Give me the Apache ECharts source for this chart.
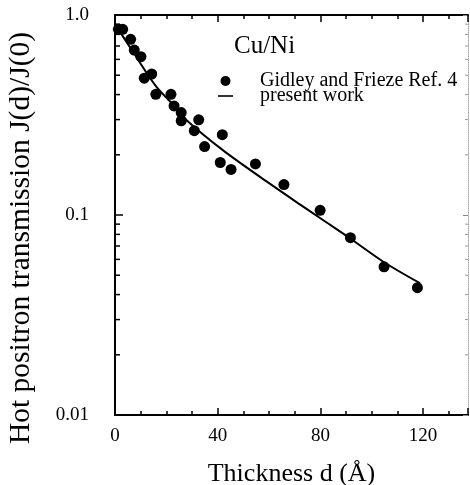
<!DOCTYPE html>
<html>
<head>
<meta charset="utf-8">
<script src="https://cdn.jsdelivr.net/npm/echarts@6/dist/echarts.min.js"></script>
<style>html,body{margin:0;padding:0;background:#fff;}#c{width:470px;height:485px;}</style>
</head>
<body>
<div id="c"></div>
<script>
// ---- data ----
var pointsX = [1.3, 3.0, 6.1, 7.5, 10.1, 11.4, 14.3, 15.9, 21.8, 23.0, 25.8, 25.8, 30.9, 32.6, 34.9, 41.0, 41.8, 45.2, 54.7, 65.8, 79.9, 91.7, 104.8, 117.8];
var pointsY = [0.848, 0.848, 0.756, 0.668, 0.619, 0.483, 0.507, 0.401, 0.401, 0.351, 0.325, 0.296, 0.264, 0.299, 0.220, 0.183, 0.252, 0.169, 0.180, 0.142, 0.1055, 0.077, 0.0551, 0.0433];
var lineX = [0, 7.8, 16, 24, 28, 42, 56.5, 71.4, 81, 91.5, 104.5, 118.8];
var lineY = [0.90, 0.631, 0.44, 0.342, 0.297, 0.211, 0.155, 0.1144, 0.0944, 0.0765, 0.0584, 0.0456];
var xTickLabels = [0, 40, 80, 120];
var yTickValues = [0.01, 0.1, 1];
var yTickLabels = ['0.01', '0.1', '1.0'];
var yMinorTicks = [0.02,0.03,0.04,0.05,0.06,0.07,0.08,0.09,0.2,0.3,0.4,0.5,0.6,0.7,0.8,0.9];
var seriesNames = ['Gidley and Frieze Ref. 4', 'present work'];
var titleText = 'Cu/Ni';
var xName = 'Thickness d (\u00C5)';
var yName = 'Hot positron transmission J(d)/J(0)';
var X_MAX = 137.5;

var FONT = "'Liberation Serif','Times New Roman',serif";

function zip(a, b) { return a.map(function (v, i) { return [v, b[i]]; }); }

var chart = echarts.init(document.getElementById('c'), null, {renderer: 'canvas'});

function xAxisDef(pos, interval, tickLen, showLine, showLabel) {
  return {
    type: 'value', position: pos, min: 0, max: X_MAX, interval: interval,
    axisLine: {show: showLine, onZero: false, lineStyle: {color: '#000', width: 2}},
    axisTick: {show: true, inside: true, length: tickLen, lineStyle: {color: '#000', width: 1.5}},
    splitLine: {show: false},
    axisLabel: {
      show: showLabel, margin: 12, color: '#000', fontFamily: FONT, fontSize: 19,
      showMaxLabel: false,
      formatter: function (v) { return xTickLabels.indexOf(v) >= 0 ? String(v) : ''; }
    },
    name: showLabel ? xName : '', nameLocation: 'middle', nameGap: 46,
    nameTextStyle: {color: '#000', fontFamily: FONT, fontSize: 26}
  };
}

var option = {
  animation: false,
  backgroundColor: '#fff',
  grid: {left: 115, right: 2, top: 15, bottom: 70, containLabel: false, outerBoundsMode: 'none'},
  title: {
    text: titleText, left: 229, top: 29,
    textStyle: {color: '#000', fontFamily: FONT, fontSize: 25, fontWeight: 'normal'}
  },
  legend: {
    orient: 'vertical', left: 213, top: 66, itemGap: -5,
    itemWidth: 15, itemHeight: 10,
    data: [
      {name: seriesNames[0], icon: 'circle'},
      {name: seriesNames[1], icon: 'path://M0,0H15V1.6H0Z'}
    ],
    textStyle: {color: '#000', fontFamily: FONT, fontSize: 20, lineHeight: 15, padding: [0, 0, 0, 22]}
  },
  xAxis: [
    xAxisDef('bottom', 10, 4, true, true),
    xAxisDef('bottom', 40, 7, false, false),
    xAxisDef('top', 10, 4, true, false),
    xAxisDef('top', 40, 7, false, false)
  ],
  yAxis: [
    {
      type: 'log', logBase: 10, min: 0.01, max: 1, position: 'left',
      axisLine: {show: true, onZero: false, lineStyle: {color: '#000', width: 2}},
      axisTick: {show: true, inside: true, length: 8, lineStyle: {color: '#000', width: 1.5}},
      splitLine: {show: false},
      axisLabel: {
        margin: 26, color: '#000', fontFamily: FONT, fontSize: 19,
        formatter: function (v) {
          var best = 0, d = 1e9;
          yTickValues.forEach(function (t, i) {
            var dd = Math.abs(Math.log10(t) - Math.log10(v));
            if (dd < d) { d = dd; best = i; }
          });
          return d < 1e-6 ? yTickLabels[best] : '';
        }
      },
      name: yName, nameLocation: 'middle', nameGap: 79,
      nameTextStyle: {color: '#000', fontFamily: FONT, fontSize: 29.5, padding: [0, 46, 0, 0]}
    },
    {
      type: 'log', logBase: 10, min: 0.01, max: 1, position: 'right',
      axisLine: {show: true, onZero: false, lineStyle: {color: '#aaa', width: 1, type: 'dotted'}},
      axisTick: {show: true, inside: true, length: 5, lineStyle: {color: '#888', width: 1}},
      splitLine: {show: false},
      axisLabel: {show: false}
    }
  ],
  series: [
    {
      name: seriesNames[0], type: 'scatter', xAxisIndex: 0, yAxisIndex: 0,
      symbol: 'circle', symbolSize: 11,
      itemStyle: {color: '#000', opacity: 1},
      data: zip(pointsX, pointsY), z: 5
    },
    {
      name: seriesNames[1], type: 'line', xAxisIndex: 0, yAxisIndex: 0,
      smooth: 0.3, showSymbol: false, symbol: 'none',
      lineStyle: {color: '#000', width: 2},
      itemStyle: {color: '#000'},
      data: zip(lineX, lineY), z: 4
    },
    {
      name: 'minorLeft', type: 'scatter', xAxisIndex: 0, yAxisIndex: 0,
      symbol: 'rect', symbolSize: [5, 1.5], symbolOffset: [2.5, 0],
      itemStyle: {color: '#000', opacity: 1}, silent: true, clip: false,
      data: yMinorTicks.map(function (v) { return [0, v]; })
    },
    {
      name: 'minorRight', type: 'scatter', xAxisIndex: 0, yAxisIndex: 0,
      symbol: 'rect', symbolSize: [3, 1], symbolOffset: [-1.5, 0],
      itemStyle: {color: '#999', opacity: 1}, silent: true, clip: false,
      data: yMinorTicks.map(function (v) { return [X_MAX, v]; })
    }
  ]
};
chart.setOption(option);
</script>
</body>
</html>
